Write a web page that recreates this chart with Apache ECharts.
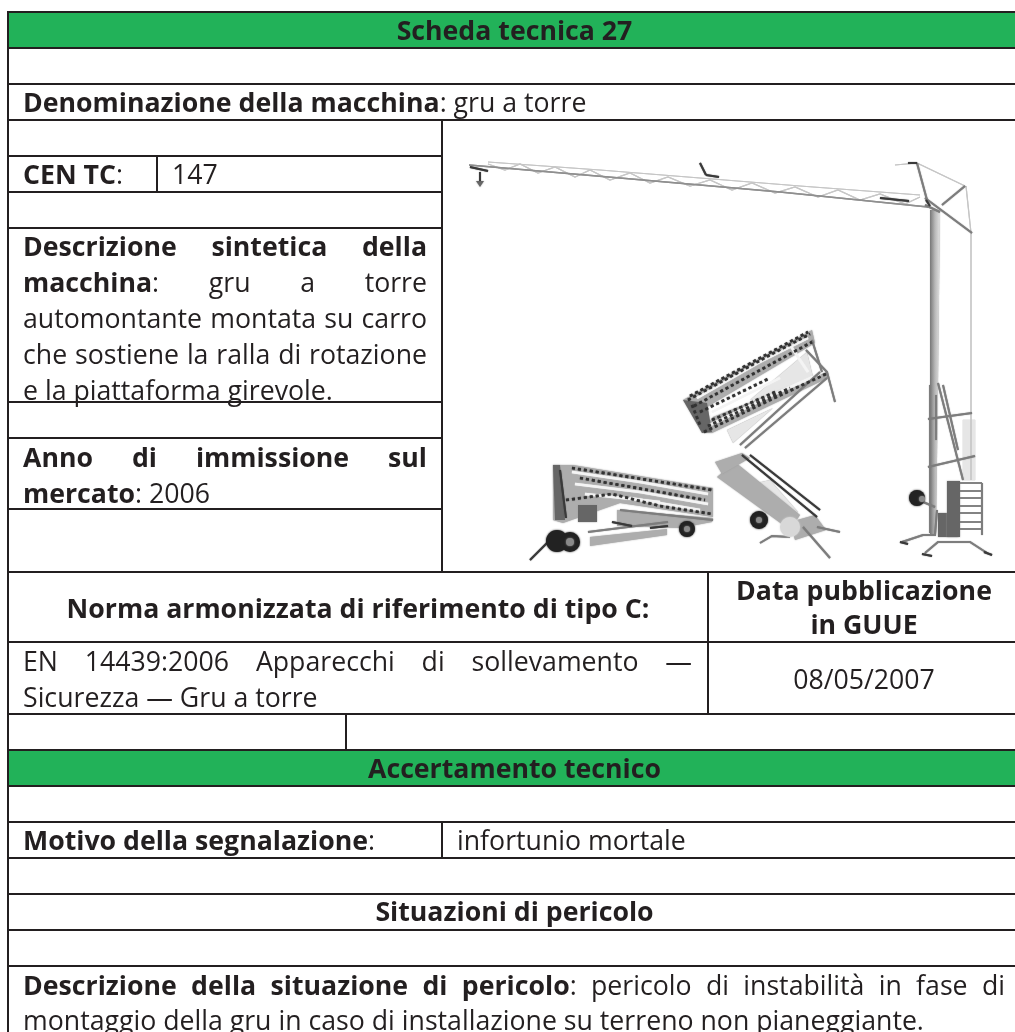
<!DOCTYPE html>
<html>
<head>
<meta charset="utf-8">
<title>Scheda tecnica 27</title>
<script src="https://cdn.jsdelivr.net/npm/echarts@6/dist/echarts.min.js"></script>
<style>
	html, body { margin: 0; padding: 0; background: #fff; }
	#main { width: 1015px; height: 1032px; }
</style>
</head>
<body>
<div id="main"></div>
<script>
// bande verdi: [x0, x1, y0, y1]
const greenBands = [[8, 1015, 12, 48], [8, 1015, 750, 786]];
// righe orizzontali: [x0, x1, y]
const hRules = [
	[8, 1015, 12], [8, 1015, 48], [8, 1015, 84], [8, 1015, 120],
	[8, 442, 156], [8, 442, 192], [8, 442, 228], [8, 442, 402], [8, 442, 438], [8, 442, 509],
	[8, 1015, 572], [8, 1015, 642], [8, 1015, 714], [8, 1015, 750], [8, 1015, 786],
	[8, 1015, 822], [8, 1015, 858], [8, 1015, 894], [8, 1015, 930], [8, 1015, 966]
];
// righe verticali: [x, y0, y1]
const vRules = [[8, 12, 1032], [442, 120, 572], [157, 156, 192], [708, 572, 714], [346, 714, 750], [442, 822, 858]];

// testo: [contenuto, modo, x0, x1, y]  (l = sinistra, c = centro, j = giustificato, ** = grassetto)
const textRows = [
	['**Scheda tecnica 27**', 'c', 8, 1021, 32],
	['**Denominazione della macchina**: gru a torre', 'l', 23, 0, 104],
	['**CEN TC**:', 'l', 23, 0, 176],
	['147', 'l', 172, 0, 176],
	['**Descrizione sintetica della**', 'j', 23, 427, 248],
	['**macchina**: gru a torre', 'j', 23, 427, 284],
	['automontante montata su carro', 'j', 23, 427, 320],
	['che sostiene la ralla di rotazione', 'j', 23, 427, 356],
	['e la piattaforma girevole.', 'l', 23, 0, 392],
	['**Anno di immissione sul**', 'j', 23, 427, 459],
	['**mercato**: 2006', 'l', 23, 0, 495],
	['**Norma armonizzata di riferimento di tipo C:**', 'c', 8, 708, 610],
	['**Data pubblicazione**', 'c', 713, 1015, 592],
	['**in GUUE**', 'c', 713, 1015, 626],
	['EN 14439:2006 Apparecchi di sollevamento —', 'j', 23, 692, 663],
	['Sicurezza — Gru a torre', 'l', 23, 0, 699],
	['08/05/2007', 'c', 713, 1015, 681],
	['**Accertamento tecnico**', 'c', 8, 1021, 770],
	['**Motivo della segnalazione**:', 'l', 23, 0, 842],
	['infortunio mortale', 'l', 457, 0, 842],
	['**Situazioni di pericolo**', 'c', 8, 1021, 913],
	['**Descrizione della situazione di pericolo**: pericolo di instabilità in fase di', 'j', 23, 1005, 987],
	['montaggio della gru in caso di installazione su terreno non pianeggiante.', 'l', 23, 0, 1022]
];

// foto della gru, ridisegnata a tratti
const fillPale = [
	[[750, 400], [807, 352], [813, 377], [770, 395]],
	[[727, 430], [773, 408], [733, 443]],
	[[757, 483], [770, 480], [798, 512], [788, 517]],
	[[963, 420], [975, 420], [975, 480], [963, 480]]
];
const fillMid = [
	[[553, 465], [573, 465], [713, 488], [713, 517], [620, 503], [563, 523], [553, 520]],
	[[683, 400], [812, 330], [815, 343], [707, 407]],
	[[702, 432], [713, 417], [807, 380], [827, 372], [828, 378], [712, 433]],
	[[617, 510], [713, 518], [712, 522], [680, 528], [617, 526]],
	[[590, 537], [667, 529], [667, 535], [590, 546]],
	[[717, 477], [735, 462], [800, 515], [790, 530]],
	[[790, 522], [815, 515], [826, 530], [795, 540]],
	[[715, 462], [742, 453], [750, 458], [722, 474]]
];
const fillDark = [
	[[553, 465], [560, 465], [565, 520], [555, 520]],
	[[578, 505], [597, 505], [597, 522], [578, 522]],
	[[683, 400], [707, 403], [712, 432], [702, 433]],
	[[938, 513], [958, 513], [958, 537], [938, 537]],
	[[947, 481], [960, 481], [960, 537], [947, 537]],
	[[476, 181], [484, 181], [480, 187]]
];
// tratti bianchi dentro i bracci ripiegati
const lineWhite = [
	[[572, 472], [640, 482], [708, 494]], [[575, 484], [640, 492], [708, 504]],
	[[585, 494], [660, 502]], [[630, 498], [700, 510]],
	[[697, 398], [760, 362], [808, 338]],
	[[710, 425], [770, 396], [820, 374]],
	[[712, 412], [780, 378]],
	[[790, 345], [808, 372]]
];
const lineMidTone = [
	[[930, 385], [930, 533]],
	[[917, 163], [927, 200]], [[965, 186], [942, 205]], [[925, 198], [972, 233]], [[925, 205], [940, 212]],
	[[938, 383], [963, 480]], [[943, 385], [958, 450]], [[936, 395], [936, 440]],
	[[928, 419], [972, 413]], [[928, 467], [975, 456]],
	[[923, 502], [935, 507]],
	[[902, 542], [923, 535], [935, 535], [937, 510]], [[925, 553], [938, 542], [970, 542], [987, 553]],
	[[827, 378], [745, 448]], [[820, 372], [740, 445]],
	[[806, 350], [827, 372], [835, 402]], [[812, 340], [822, 372]],
	[[760, 543], [772, 536], [790, 537]], [[803, 527], [830, 558]], [[817, 527], [840, 532]],
	[[588, 532], [668, 522]], [[620, 510], [713, 520]], [[982, 483], [982, 535]]
];
const lineFaint = [
	[[488, 162], [600, 170], [700, 178], [800, 186], [920, 195]],
	[[488, 164], [505, 170], [520, 164], [538, 173], [555, 167], [575, 177], [590, 170], [610, 180], [630, 173], [650, 183], [668, 177], [690, 186], [710, 180], [732, 190], [752, 183], [775, 193], [795, 187], [818, 197], [838, 190], [860, 200], [880, 194], [905, 204], [920, 197]],
	[[917, 163], [965, 186]], [[966, 186], [971, 233]],
	[[971, 233], [971, 413]], [[971, 413], [971, 480]],
	[[895, 165], [917, 163]]
];
const lineJibChord = [[[469, 165], [620, 178], [780, 192], [928, 207]]];
const lineBallast = [
	[[960, 483], [982, 483]], [[960, 491], [982, 491]], [[960, 498], [982, 498]], [[960, 506], [982, 506]],
	[[960, 513], [982, 513]], [[960, 522], [982, 522]], [[960, 529], [982, 529]]
];
const lineDark = [
	[[700, 163], [706, 175]], [[706, 175], [719, 177]], [[880, 198], [909, 201]],
	[[530, 560], [548, 542]],
	[[742, 455], [817, 517]], [[750, 455], [820, 510]],
	[[612, 522], [632, 526]], [[650, 528], [668, 526]], [[560, 470], [566, 518]],
	[[900, 542], [908, 544]], [[922, 554], [932, 556]], [[984, 552], [992, 555]],
	[[470, 167], [488, 171]], [[480, 172], [480, 181]],
	[[930, 206], [926, 200]], [[908, 163], [917, 163]]
];
// tratti a puntini: il traliccio dei bracci ripiegati
const lineLattice = [
	[[572, 468], [712, 490]], [[566, 500], [612, 494], [660, 506], [712, 514]], [[580, 478], [705, 500]],
	[[688, 400], [770, 355], [810, 334]], [[694, 406], [775, 362], [812, 342]], [[690, 396], [808, 332]],
	[[704, 432], [770, 400], [826, 374]], [[712, 420], [775, 392]], [[708, 426], [790, 388]],
	[[692, 405], [700, 425]], [[700, 412], [770, 378]]
];
// ruote: [cx, cy, r]
const wheelsDark = [[557, 541, 11], [570, 542, 10], [687, 529, 8], [759, 520, 9], [917, 498, 8]];
const wheelsHub = [[570, 542, 4], [687, 529, 3], [759, 520, 3], [922, 499, 3]];
const mastBody = [[930, 210], [940, 210], [938, 385], [936, 535], [930, 535]];
const tankBody = [[790, 527, 10]];

const INK = '#231f20';
const FONT = '"Open Sans", sans-serif';
const FONT_SIZE = 26.7;

const ctx = document.createElement('canvas').getContext('2d');
function fontOf(bold) {
	return (bold ? 'bold ' : '') + FONT_SIZE + 'px ' + FONT;
}
function widthOf(str, bold) {
	ctx.font = fontOf(bold);
	return ctx.measureText(str).width;
}

// spezza la riga in parole, ogni parola in tratti grassetto/normale
function parseWords(src) {
	const words = [];
	let current = [];
	src.split(/(\*\*.*?\*\*)/).forEach((part) => {
		if (!part) return;
		const bold = part.startsWith('**');
		const raw = bold ? part.slice(2, -2) : part;
		raw.split(/( )/).forEach((piece) => {
			if (piece === ' ') {
				if (current.length) words.push(current);
				current = [];
			} else if (piece) {
				current.push({ t: piece, b: bold });
			}
		});
	});
	if (current.length) words.push(current);
	return words;
}

function renderTextRow(params, api) {
	const row = textRows[params.dataIndex];
	const words = parseWords(row[0]);
	const wordW = words.map((w) => w.reduce((s, r) => s + widthOf(r.t, r.b), 0));
	const sum = wordW.reduce((a, b) => a + b, 0);
	const left = api.coord([row[2], row[4]]);
	const right = api.coord([row[3], row[4]]);
	let gap = widthOf(' ', words[0][0].b && words.length > 1 && words[words.length - 1][0].b);
	if (row[1] === 'j') gap = (right[0] - left[0] - sum) / (words.length - 1);
	let x = left[0];
	if (row[1] === 'c') x = (left[0] + right[0] - sum - gap * (words.length - 1)) / 2;
	const children = [];
	words.forEach((w, i) => {
		let cx = x;
		w.forEach((r) => {
			children.push({
				type: 'text',
				style: { text: r.t, x: cx, y: left[1], font: fontOf(r.b), fill: INK, align: 'left', verticalAlign: 'middle' }
			});
			cx += widthOf(r.t, r.b);
		});
		x += wordW[i] + gap;
	});
	return { type: 'group', children: children };
}

function polySeries(list, color, closed, width, blur, dash) {
	return {
		type: 'custom',
		silent: true,
		clip: false,
		data: list.map((pts) => [pts[0][0], pts[0][1]]),
		renderItem: (params, api) => {
			const points = list[params.dataIndex].map((p) => api.coord(p));
			return closed
				? { type: 'polygon', shape: { points }, style: { fill: color, shadowBlur: blur, shadowColor: '#999' } }
				: { type: 'polyline', shape: { points }, style: { fill: null, stroke: color, lineWidth: width, lineDash: dash, shadowBlur: blur, shadowColor: color } };
		}
	};
}

function circleSeries(list, color) {
	return {
		type: 'custom',
		silent: true,
		clip: false,
		data: list.map((c) => [c[0], c[1]]),
		renderItem: (params, api) => {
			const c = list[params.dataIndex];
			const p = api.coord([c[0], c[1]]);
			const q = api.coord([c[0] + c[2], c[1]]);
			return { type: 'circle', shape: { cx: p[0], cy: p[1], r: q[0] - p[0] }, style: { fill: color, shadowBlur: 2, shadowColor: color } };
		}
	};
}

const mastGradient = new echarts.graphic.LinearGradient(0, 0, 1, 0, [
	{ offset: 0, color: '#777777' },
	{ offset: 0.5, color: '#b8b8b8' },
	{ offset: 1, color: '#e2e2e2' }
]);

const option = {
	animation: false,
	backgroundColor: '#fff',
	grid: { left: 0, right: 0, top: 0, bottom: 0 },
	xAxis: { type: 'value', min: 0, max: 1015, show: false },
	yAxis: { type: 'value', min: 0, max: 1032, inverse: true, show: false },
	series: [
		{
			type: 'custom',
			silent: true,
			data: greenBands,
			encode: { x: [0, 1], y: [2, 3] },
			renderItem: (params, api) => {
				const a = api.coord([api.value(0), api.value(2)]);
				const b = api.coord([api.value(1), api.value(3)]);
				return { type: 'rect', shape: { x: a[0], y: a[1], width: b[0] - a[0], height: b[1] - a[1] }, style: { fill: '#22b259' } };
			}
		},
		polySeries(fillPale, '#e6e6e6', true, 0, 1),
		polySeries(fillMid, '#adadad', true, 0, 1.5),
		polySeries([mastBody], mastGradient, true, 0, 1),
		polySeries(fillDark, '#666666', true, 0, 1.5),
		polySeries(lineWhite, '#f4f4f4', false, 2.5, 1),
		polySeries(lineFaint, '#c6c6c6', false, 1.2, 0.5),
		polySeries(lineJibChord, '#8f8f8f', false, 1.6, 0.5),
		polySeries(lineBallast, '#777777', false, 1.4, 0.5),
		polySeries(lineMidTone, '#7d7d7d', false, 2, 1),
		polySeries(lineLattice, '#333333', false, 2.6, 1, [3, 3]),
		polySeries(lineDark, '#3a3a3a', false, 2, 1),
		circleSeries(tankBody, '#d8d8d8'),
		circleSeries(wheelsDark, '#222222'),
		circleSeries(wheelsHub, '#8a8a8a'),
		{
			type: 'custom',
			silent: true,
			clip: false,
			data: hRules,
			encode: { x: [0, 1], y: 2 },
			renderItem: (params, api) => {
				const a = api.coord([api.value(0), api.value(2)]);
				const b = api.coord([api.value(1), api.value(2)]);
				return { type: 'line', shape: { x1: a[0] - 1, y1: a[1], x2: b[0], y2: b[1] }, style: { stroke: INK, lineWidth: 2 } };
			}
		},
		{
			type: 'custom',
			silent: true,
			clip: false,
			data: vRules,
			encode: { x: 0, y: [1, 2] },
			renderItem: (params, api) => {
				const a = api.coord([api.value(0), api.value(1)]);
				const b = api.coord([api.value(0), api.value(2)]);
				return { type: 'line', shape: { x1: a[0], y1: a[1], x2: b[0], y2: b[1] }, style: { stroke: INK, lineWidth: 2 } };
			}
		},
		{
			type: 'custom',
			silent: true,
			clip: false,
			data: textRows.map((r) => [r[2], r[4]]),
			renderItem: renderTextRow
		}
	]
};

const myChart = echarts.init(document.getElementById('main'));
myChart.setOption(option);
</script>
</body>
</html>
